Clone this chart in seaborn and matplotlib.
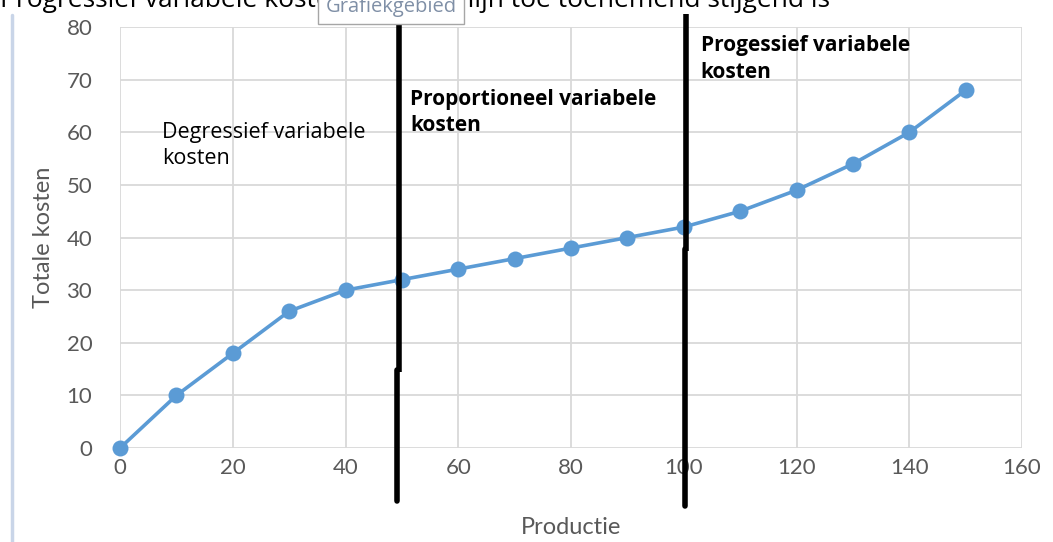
import matplotlib
matplotlib.use('Agg')
import matplotlib.pyplot as plt
import seaborn as sns
import pandas as pd

# data
productie = [0, 10, 20, 30, 40, 50, 60, 70, 80, 90, 100, 110, 120, 130, 140, 150]
totale_kosten = [0, 10, 18, 26, 30, 32, 34, 36, 38, 40, 42, 45, 49, 54, 60, 68]
grens_x = [49.2, 100.3]
x_ticks = [0, 20, 40, 60, 80, 100, 120, 140, 160]
y_ticks = [0, 10, 20, 30, 40, 50, 60, 70, 80]

df = pd.DataFrame({'Productie': productie, 'Totale kosten': totale_kosten})

sns.set_style('white')
plt.rcParams['font.family'] = ['Lato', 'DejaVu Sans']

fig = plt.figure(figsize=(10.53, 5.42), dpi=100)
ax = fig.add_axes([0.114, 0.1734, 0.8566, 0.7766])

blue = '#5B9BD5'
sns.lineplot(data=df, x='Productie', y='Totale kosten', ax=ax, color=blue,
             linewidth=2.6, marker='o', markersize=11.5, markeredgewidth=0,
             clip_on=False, zorder=3)

ax.set_xlim(0, 160)
ax.set_ylim(0, 80)
ax.set_xticks(x_ticks)
ax.set_yticks(y_ticks)
ax.grid(True, color='#D9D9D9', linewidth=1.3)
for s in ax.spines.values():
    s.set_visible(False)
ax.tick_params(axis='both', length=0, labelsize=16, labelcolor='#595959')
ax.tick_params(axis='y', pad=20)
ax.tick_params(axis='x', pad=7)
ax.set_xlabel('Productie', fontsize=17, color='#595959', labelpad=28)
ax.set_ylabel('Totale kosten', fontsize=17, color='#595959', labelpad=9)

# hand-drawn black separators
ax.plot([grens_x[0] + 0.3, grens_x[0] + 0.3], [82.5, 14.5], color='black', lw=4, clip_on=False, zorder=5,
        solid_capstyle='butt')
ax.plot([grens_x[0] - 0.15, grens_x[0] - 0.15], [14.8, -10], color='black', lw=4, clip_on=False, zorder=5,
        solid_capstyle='round')
ax.plot([grens_x[1] + 0.15, grens_x[1] + 0.15], [82.5, 37.5], color='black', lw=4, clip_on=False, zorder=5,
        solid_capstyle='butt')
ax.plot([grens_x[1] - 0.15, grens_x[1] - 0.15], [37.8, -11], color='black', lw=4, clip_on=False, zorder=5,
        solid_capstyle='round')

font_ann = ['Open Sans', 'DejaVu Sans']
ax.text(7.5, 62.0, 'Degressief variabele\nkosten', fontsize=15.5, color='black',
        va='top', ha='left', linespacing=1.35, family=font_ann)
ax.text(51.5, 68.3, 'Proportioneel variabele\nkosten', fontsize=15, color='black',
        fontweight='bold', va='top', ha='left', linespacing=1.35, family=font_ann)
ax.text(103, 78.5, 'Progessief variabele\nkosten', fontsize=15, color='black',
        fontweight='bold', va='top', ha='left', linespacing=1.35, family=font_ann)

# clipped sentence above the chart
fig.text(0.0, 0.988, 'Progressief variabele kosten kent een lijn toe toenemend stijgend is',
         fontsize=19, color='black', va='baseline', ha='left', family=font_ann, zorder=1)

# excel chart border on the left
fig.add_artist(plt.Line2D([0.0115, 0.0115], [0, 0.972], color='#C9D5E8', lw=2.5))

# tooltip box
fig.text(0.309, 0.987, 'Grafiekgebied', fontsize=14.5, color='#7F8FA6', va='center', ha='left',
         family=font_ann, zorder=10,
         bbox=dict(boxstyle='square,pad=0.35', facecolor='white', edgecolor='#A6A6A6', lw=1))

fig.savefig('out.png', dpi=100)
